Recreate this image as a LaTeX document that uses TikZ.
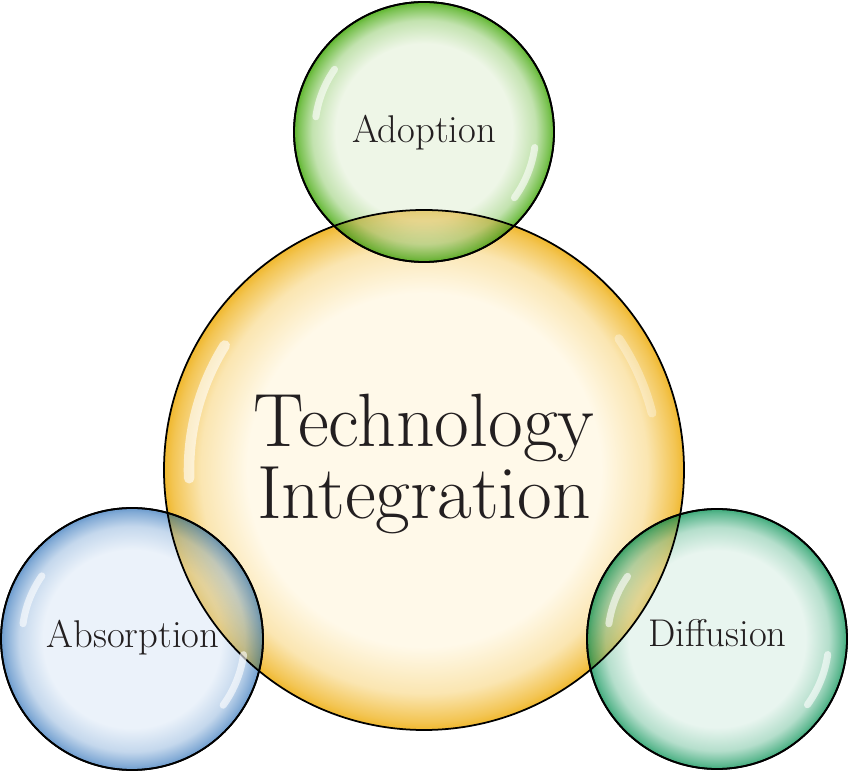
\documentclass[tikz,border=0pt]{standalone}
\usepackage{xcolor}
\usepackage{tikz}
\usetikzlibrary{calc}

\definecolor{techin}{HTML}{FFF9E9}
\definecolor{techout}{HTML}{F0B82E}
\definecolor{adoptin}{HTML}{EEF6E7}
\definecolor{adoptout}{HTML}{5DB52C}
\definecolor{absorbin}{HTML}{EBF2FA}
\definecolor{absorbout}{HTML}{6A9ACD}
\definecolor{diffin}{HTML}{E8F5EF}
\definecolor{diffout}{HTML}{3DAA7A}
\definecolor{labcol}{HTML}{231F20}

\colorlet{bubin}{white}
\colorlet{bubout}{black}
% the path's box covers the inner 50bp, so the rim sits at 25bp
\pgfdeclareradialshading[bubin,bubout]{bubble}{\pgfpoint{0bp}{0bp}}{%
  color(0bp)=(bubin); color(17bp)=(bubin); color(21.5bp)=(bubin!70!bubout);
  color(24.2bp)=(bubin!20!bubout); color(25bp)=(bubout); color(50bp)=(bubout)}

\begin{document}
\begin{tikzpicture}[
  bub/.style 2 args={circle, draw=black, line width=1pt, inner sep=0pt,
    /utils/exec={\colorlet{bubin}{#1}\colorlet{bubout}{#2}}, shading=bubble},
  glint/.style={white, line cap=round, line width=4pt, opacity=0.6},
  lab/.style={font=\fontsize{22}{26}\selectfont, text=labcol, anchor=base},
  biglab/.style={font=\fontsize{43}{41}\selectfont, text=labcol, align=center}
]
\useasboundingbox (0,0) rectangle (17,15.44);

% centre bubble
\node[bub={techin}{techout}, minimum size=10.4cm] (tech) at (8.48,6.04) {};
\draw[glint, line width=6pt] ([shift={(148:4.7)}]tech.center) arc[start angle=148, end angle=182, radius=4.7];
\draw[glint, line width=5pt, opacity=0.35] ([shift={(14:4.7)}]tech.center) arc[start angle=14, end angle=34, radius=4.7];

% outer bubbles
\node[bub={adoptin}{adoptout}, minimum size=5.2cm] (adopt) at (8.48,12.8) {};
\node[bub={absorbin}{absorbout}, minimum size=5.24cm] (absorb) at (2.64,2.66) {};
\node[bub={diffin}{diffout}, minimum size=5.2cm] (diffuse) at (14.34,2.66) {};

% let the centre bubble show through the overlaps
\foreach \b/\r in {adopt/2.6, absorb/2.62, diffuse/2.6}{
  \begin{scope}[blend mode=multiply]
    \clip (\b.center) circle (\r);
    \path[bub={techin}{techout}, fill opacity=0.6] (tech.center) circle (5.2);
  \end{scope}
  \draw[line width=1pt] (\b.center) circle (\r);
  \draw[glint] ([shift={(145:{0.84*\r})}]\b.center) arc[start angle=145, end angle=172, radius={0.84*\r}];
  \draw[glint] ([shift={(-8:{0.86*\r})}]\b.center) arc[start angle=-8, end angle=-36, radius={0.86*\r}];
}

\node[biglab] (techlab) at (8.48,6.16) {Technology\\Integration};
\node[lab] (adoptlab) at (8.48,12.58) {Adoption};
\node[lab] (absorblab) at (2.66,2.48) {Absorption};
\node[lab] (difflab) at (14.35,2.5) {Diffusion};
\end{tikzpicture}
\end{document}
